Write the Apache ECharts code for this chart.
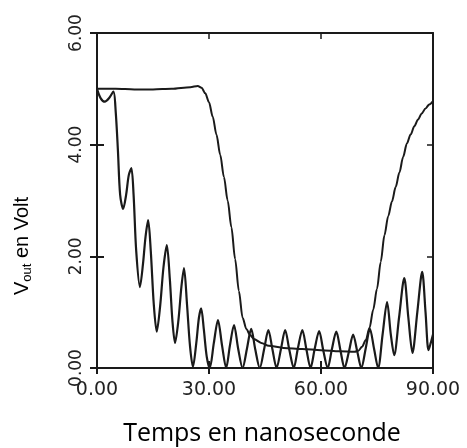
<!DOCTYPE html>
<html>
<head>
<meta charset="utf-8">
<script src="https://cdn.jsdelivr.net/npm/echarts@6/dist/echarts.min.js"></script>
<style>html,body{margin:0;padding:0;background:#fff}#c{width:467px;height:448px}</style>
</head>
<body>
<div id="c"></div>
<script>
// Tick labels
const xTicks = [0, 30, 60, 90];
const yTicks = [0, 2, 4, 6];
const xTitle = 'Temps en nanoseconde';
const yTitleMain = 'V';
const yTitleSub = 'out';
const yTitleRest = ' en Volt';

// Smooth (slow) response: [time ns, volts]
const smoothCurve = [
  [0,5.0],[5,5.0],[10,4.99],[15,4.99],[20,5.0],[25,5.03],[27,5.05],[28,5.02],[29,4.92],
  [30,4.76],[31,4.5],[32,4.18],[33,3.82],[34,3.42],[35,3.0],[36,2.52],[37,1.95],[38,1.38],
  [39,0.9],[40,0.7],[41,0.59],[42,0.52],[44,0.45],[46,0.4],[50,0.36],[55,0.34],[60,0.32],
  [65,0.3],[69,0.29],[70,0.31],[71,0.38],[72,0.5],[73,0.72],[74,1.05],[75,1.42],[76,1.9],
  [77,2.38],[78,2.72],[79,2.98],[80,3.24],[81,3.5],[82,3.78],[83,4.02],[84,4.18],[85,4.33],
  [86,4.45],[87,4.56],[88,4.65],[89,4.72],[90,4.78]
];

// Oscillating (ringing) response: [time ns, volts]
const ringCurve = [
  [0,5.0],[1,4.83],[2.1,4.77],[3.2,4.83],[4.4,4.95],[5.0,4.6],[5.6,3.9],[6.2,3.1],[7.0,2.85],
  [7.8,3.1],[8.5,3.45],[9.2,3.58],[9.8,3.1],[10.5,2.1],[11.5,1.45],[12.3,1.85],[13.0,2.35],
  [13.7,2.65],[14.4,2.1],[15.2,1.15],[16.0,0.65],[16.9,1.1],[17.8,1.8],[18.7,2.2],[19.5,1.6],
  [20.2,0.85],[20.9,0.45],[21.8,0.85],[22.6,1.45],[23.3,1.79],[24.1,1.15],[24.9,0.4],[25.7,0.02],
  [26.6,0.45],[27.3,0.9],[27.9,1.07],[28.6,0.7],[29.4,0.2],[30.2,0.0],[31.3,0.45],[32.4,0.86],
  [33.5,0.4],[34.6,0.0],[35.6,0.4],[36.7,0.77],[37.8,0.35],[39.0,0.0],[40.2,0.36],[41.3,0.7],
  [42.4,0.33],[43.6,0.0],[44.8,0.35],[45.9,0.68],[47.0,0.33],[48.1,0.0],[49.3,0.35],[50.4,0.68],
  [51.5,0.33],[52.7,0.0],[53.8,0.35],[55.0,0.68],[56.1,0.33],[57.2,0.0],[58.3,0.34],[59.5,0.66],
  [60.6,0.32],[61.8,0.0],[62.9,0.33],[64.1,0.65],[65.2,0.32],[66.3,0.0],[67.5,0.3],[68.6,0.6],
  [69.7,0.3],[70.8,0.0],[72.0,0.36],[73.1,0.7],[74.2,0.35],[75.3,0.0],[76.5,0.6],[77.7,1.18],
  [78.7,0.6],[79.6,0.23],[80.9,0.9],[82.3,1.61],[83.4,0.9],[84.5,0.27],[85.8,1.0],[87.1,1.72],
  [88.0,1.0],[88.8,0.32],[89.4,0.45],[90,0.6]
];

const INK = '#1a1a1a';
const chart = echarts.init(document.getElementById('c'), null, {renderer: 'canvas'});

const baseX = {
  type: 'value', min: xTicks[0], max: xTicks[xTicks.length - 1], interval: 30,
  splitLine: {show: false}
};
const baseY = {
  type: 'value', min: yTicks[0], max: yTicks[yTicks.length - 1], interval: 2,
  splitLine: {show: false}
};

chart.setOption({
  animation: false,
  backgroundColor: '#fff',
  grid: {left: 97, right: 34, top: 33, bottom: 80, containLabel: false},
  xAxis: [
    Object.assign({}, baseX, {
      position: 'bottom',
      axisLine: {show: true, onZero: false, lineStyle: {color: INK, width: 2}},
      axisTick: {show: true, inside: true, length: 7, lineStyle: {color: INK, width: 2}},
      axisLabel: {show: true, margin: 13, color: '#222', fontFamily: 'DejaVu Sans', fontSize: 19,
        formatter: v => v.toFixed(2)}
    }),
    Object.assign({}, baseX, {
      position: 'bottom',
      axisLine: {show: false, onZero: false},
      axisTick: {show: true, inside: false, length: 6, lineStyle: {color: INK, width: 2}},
      axisLabel: {show: false}
    }),
    Object.assign({}, baseX, {
      position: 'top',
      axisLine: {show: true, onZero: false, lineStyle: {color: INK, width: 2}},
      axisTick: {show: true, inside: true, length: 6, lineStyle: {color: INK, width: 1.5}},
      axisLabel: {show: false}
    })
  ],
  yAxis: [
    Object.assign({}, baseY, {
      position: 'left',
      axisLine: {show: true, onZero: false, lineStyle: {color: INK, width: 2}},
      axisTick: {show: true, inside: true, length: 7, lineStyle: {color: INK, width: 2}},
      axisLabel: {show: true, margin: 12, rotate: 90, color: '#222', fontFamily: 'DejaVu Sans', fontSize: 17,
        formatter: v => v.toFixed(2)}
    }),
    Object.assign({}, baseY, {
      position: 'left',
      axisLine: {show: false, onZero: false},
      axisTick: {show: true, inside: false, length: 7, lineStyle: {color: INK, width: 2}},
      axisLabel: {show: false}
    }),
    Object.assign({}, baseY, {
      position: 'right',
      axisLine: {show: true, onZero: false, lineStyle: {color: INK, width: 2}},
      axisTick: {show: true, inside: true, length: 6, lineStyle: {color: INK, width: 1.5}},
      axisLabel: {show: false}
    })
  ],
  series: [
    {
      type: 'line', name: 'lent', data: smoothCurve, smooth: 0.3, smoothMonotone: 'x', showSymbol: false,
      xAxisIndex: 0, yAxisIndex: 0,
      lineStyle: {color: INK, width: 2}
    },
    {
      type: 'line', name: 'oscillant', data: ringCurve, smooth: 0.3, showSymbol: false,
      xAxisIndex: 0, yAxisIndex: 0,
      lineStyle: {color: INK, width: 2.2}
    }
  ],
  graphic: [
    {
      type: 'text', x: 262, y: 434,
      style: {text: xTitle, fill: '#000', font: '25px "Open Sans"', align: 'center', verticalAlign: 'middle'}
    },
    {
      type: 'text', x: 22, y: 246, rotation: Math.PI / 2,
      style: {
        text: '{a|' + yTitleMain + '}{b|' + yTitleSub + '}{a|' + yTitleRest + '}',
        align: 'center', verticalAlign: 'middle',
        rich: {
          a: {fontFamily: 'Liberation Sans', fontSize: 20, fill: '#000', color: '#000'},
          b: {fontFamily: 'Liberation Sans', fontSize: 13, fill: '#000', color: '#000', verticalAlign: 'bottom', padding: [10, 0, 0, 0]}
        }
      }
    }
  ]
});
</script>
</body>
</html>
